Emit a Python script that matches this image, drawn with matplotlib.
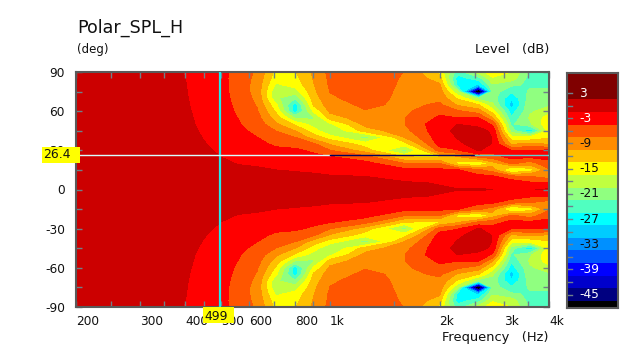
import matplotlib
matplotlib.use("Agg")
import matplotlib.pyplot as plt
from matplotlib.colors import ListedColormap, BoundaryNorm
from matplotlib.patches import Rectangle
import numpy as np

freqs = [200, 300, 400, 500, 560, 630, 710, 800, 900, 1000, 1250, 1600,
         2000, 2240, 2560, 2800, 3150, 3550, 4000]
angles = [0, 5, 10, 15, 20, 25, 30, 35, 40, 45, 50, 55, 60, 65, 70, 75, 80, 85, 90]

# level in dB, one row per frequency, 0 to 90 deg (the lower half is the mirror image)
spl_upper = [
    [0, 0, 0, 0, -0.1, -0.1, -0.1, -0.2, -0.2, -0.2, -0.2, -0.3, -0.3, -0.3, -0.3, -0.3, -0.3, -0.3, -0.3],
    [-0.1, -0.1, -0.1, -0.2, -0.2, -0.3, -0.3, -0.4, -0.4, -0.5, -0.5, -0.6, -0.6, -0.7, -0.7, -0.8, -0.8, -0.8, -0.8],
    [-0.1, -0.1, -0.2, -0.3, -0.4, -0.5, -0.6, -0.7, -0.8, -0.9, -1, -1.1, -1.2, -1.28, -1.35, -1.4, -1.45, -1.5, -1.55],
    [-0.3, -0.4, -0.6, -0.9, -1.2, -1.5, -1.8, -2.1, -2.4, -2.7, -3, -3.1, -3.2, -3.3, -3.4, -3.5, -3.6, -3.65, -3.7],
    [-0.4, -0.6, -0.8, -1.1, -1.6, -2.2, -2.7, -3.2, -3.6, -4, -4.3, -4.6, -5, -5.3, -5.6, -5.8, -5.8, -5.8, -5.7],
    [-0.5, -0.7, -1, -1.3, -1.7, -2.4, -3, -3.8, -4.5, -5.1, -5.8, -6.5, -7.2, -7.8, -8.3, -8.7, -8.7, -8.4, -8],
    [-0.6, -0.8, -1.1, -1.5, -2.2, -3, -3.9, -5, -6.3, -7.6, -10, -12, -14, -16, -19, -19, -17, -15.5, -14.5],
    [-0.7, -0.9, -1.2, -1.6, -2.2, -3, -4, -5.6, -7.5, -10.5, -14, -20, -27, -27, -22, -18, -15.5, -14.5, -13.8],
    [-0.8, -1, -1.3, -1.7, -2.6, -3.8, -5, -7, -12, -15, -18, -20, -16, -13, -12, -11.2, -10.7, -10.3, -10],
    [-0.8, -1, -1.4, -1.9, -3, -4.3, -7.5, -11, -15, -19.5, -17, -12, -9.8, -8.8, -8, -7.4, -7, -6.8, -6.5],
    [-1, -1.2, -1.5, -2.3, -3.5, -6.5, -12, -15, -21, -12, -9.5, -8.5, -7.7, -6.8, -6, -5.4, -5, -5, -5.2],
    [-1.1, -1.3, -2.2, -3.7, -7.5, -13.5, -21, -14.5, -10.5, -8.5, -7.6, -7.6, -8, -8.3, -8.5, -8.5, -8.3, -8, -7.6],
    [-1.3, -1.6, -2.5, -3.9, -7.5, -14, -6, -3.2, -2.6, -2.2, -2.2, -4, -5.4, -7, -8.3, -9, -10, -12, -14.5],
    [-1.4, -2.2, -3.2, -4.3, -14.5, -11, -4.8, -1.8, -1.4, -1, -1.5, -4.5, -7, -11, -14, -19, -26, -27, -24],
    [-1.4, -2, -3.5, -7, -17, -7, -1.2, -0.8, -0.3, -0.6, -2.2, -4.5, -9, -13.5, -21, -54, -29, -24, -18],
    [-1.5, -2, -4, -9, -12, -6, -3, -1.6, -1.6, -2, -5, -10.5, -15, -19, -21, -21, -20, -17, -14.5],
    [-1.5, -2.5, -6.5, -18, -7, -3.5, -4.5, -11, -15.5, -21, -23, -25, -27, -30, -28, -25, -22, -18, -16.5],
    [-1.6, -4, -7.5, -15, -9, -4, -4.5, -10, -16, -28, -20, -19, -20, -20, -21, -22, -23, -24, -23],
    [-1.2, -4, -9, -8, -5, -4, -4, -11, -14, -15, -14, -15, -18, -20, -21, -22, -23, -24, -25],
]

band_values = [-48, -45, -42, -39, -36, -33, -30, -27, -24, -21, -18, -15, -12, -9, -6, -3, 0, 3]
band_colors = ["#000000", "#000080", "#0000cc", "#0000ff", "#0055ff", "#0090ff",
               "#00ccff", "#00ffff", "#50ffc0", "#90ff80", "#c0ff40", "#ffff00",
               "#ffc000", "#ff8c00", "#ff5500", "#ff0000", "#cc0000", "#800000"]

x_major = [200, 300, 400, 500, 600, 800, 1000, 2000, 3000, 4000]
x_major_labels = ["200", "300", "400", "500", "600", "800", "1k", "2k", "3k", "4k"]
x_minor = [250, 350, 450, 700, 900, 1500, 2500, 3500]
y_major = [-90, -60, -30, 0, 30, 60, 90]
y_minor = [-75, -45, -15, 15, 45, 75]
bar_labels = [3, -3, -9, -15, -21, -27, -33, -39, -45]
white_labels = [3, -3, -39, -45]

cursor_freq = 499
cursor_angle = 26.4

W, H = 636, 351
GRAY = "#5a5a5a"
plt.rcParams['font.family'] = ['DejaVu Sans']


def px_axes(left, top, right, bottom):
    return [left / W, 1 - bottom / H, (right - left) / W, (bottom - top) / H]


def fig_text(x, y, s, **kw):
    return fig.text(x / W, 1 - y / H, s, color=kw.pop('color', '#111111'), **kw)


def yellow_box(left, top, right, bottom):
    fig.add_artist(Rectangle((left / W, 1 - bottom / H), (right - left) / W, (bottom - top) / H,
                             transform=fig.transFigure, facecolor='#ffff00', edgecolor='none', zorder=9))


fig = plt.figure(figsize=(W / 100, H / 100), dpi=100)
ax = fig.add_axes(px_axes(76, 72, 549, 307))

# mirror the upper half to get the whole -90..90 grid
upper = np.array(spl_upper).T
z = np.vstack([upper[:0:-1], upper])
y = np.array([-a for a in angles[:0:-1]] + angles)

levels = [-100] + [v + 1.5 for v in band_values[:-1]] + [100]
ax.contourf(freqs, y, z, levels=levels, colors=band_colors, antialiased=False)

ax.set_xscale('log')
ax.set_xlim(200, 4000)
ax.set_ylim(-90, 90)
ax.set_xticks(x_major)
ax.set_xticklabels(x_major_labels, fontsize=8.7, ha='left', color='#111111')
ax.set_xticks(x_minor, minor=True)
ax.set_xticklabels([], minor=True)
ax.set_yticks(y_major)
ax.set_yticklabels([str(v) for v in y_major], fontsize=8.7, color='#111111')
ax.set_yticks(y_minor, minor=True)
ax.tick_params(axis='y', pad=8)
ax.tick_params(axis='x', pad=6)
ax.tick_params(which='both', direction='in', top=True, right=True, length=4,
               width=1, color='#708088')
for s in ax.spines.values():
    s.set_color(GRAY)
    s.set_linewidth(1.5)

# cursor lines, the horizontal one inverts the colours below it
ax.axvline(cursor_freq, color='#20e8e8', lw=1.6, zorder=5)
ax.plot([200, 1000], [cursor_angle, cursor_angle], color='#d8ffff', lw=1, zorder=5)
ax.plot([1000, 2500], [cursor_angle, cursor_angle], color='#000060', lw=1, zorder=5)
ax.plot([2500, 4000], [cursor_angle, cursor_angle], color='#60d0d0', lw=1, zorder=5)

yellow_box(42, 147, 80, 163)
yellow_box(203, 307, 234, 323)
fig_text(43, 155, str(cursor_angle), fontsize=8.9, ha='left', va='center', zorder=10)
fig_text(204, 316, str(cursor_freq), fontsize=8.9, ha='left', va='center', zorder=10)

fig_text(77, 28, "Polar_SPL_H", fontsize=12.6, ha='left', va='center')
fig_text(77, 50, "(deg)", fontsize=8.5, ha='left', va='center')
fig_text(549, 50, "Level   (dB)", fontsize=9.4, ha='right', va='center')
fig_text(549, 338, "Frequency   (Hz)", fontsize=9.4, ha='right', va='center')

# colour bar
cax = fig.add_axes(px_axes(567, 72.5, 618, 308))
edges = [-48.2] + [v + 1.5 for v in band_values[:-1]] + [7.9]
cmap = ListedColormap(band_colors)
norm = BoundaryNorm(edges, cmap.N)
cax.pcolormesh([0, 1], edges, np.array(band_values[:]).reshape(-1, 1), cmap=cmap, norm=norm)
cax.set_xlim(0, 1)
cax.set_ylim(-48.2, 7.9)
cax.set_xticks([])
cax.set_yticks([])
for s in cax.spines.values():
    s.set_color(GRAY)
    s.set_linewidth(1.5)
for v in band_values[1:]:
    cax.plot([0, 0.1], [v, v], color='#70808c', lw=1)
for v in bar_labels:
    cax.text(0.235, v, str(v), fontsize=8.7, va='center', ha='left',
             color='white' if v in white_labels else '#111111')

plt.savefig("out.png", dpi=100)
plt.close()
